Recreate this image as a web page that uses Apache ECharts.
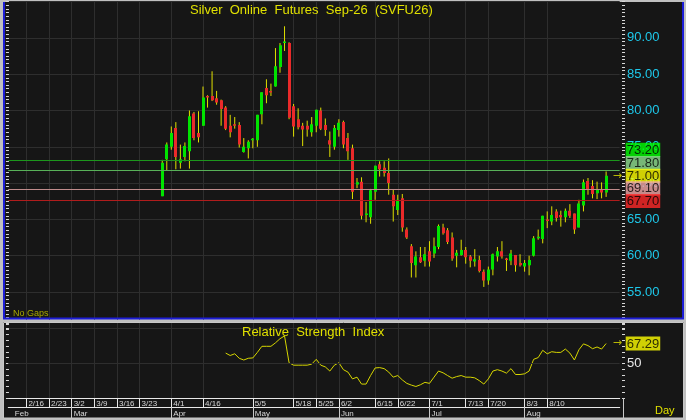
<!DOCTYPE html>
<html>
<head>
    <meta charset="utf-8">
    <title>Silver Online Futures Sep-26 (SVFU26)</title>
    <script src="https://cdn.jsdelivr.net/npm/echarts@6.0.0/dist/echarts.min.js"></script>
    <style>
        html, body { margin: 0; padding: 0; background: #c0c0c0; }
        #chart { width: 686px; height: 420px; }
    </style>
</head>
<body>
<div id="chart"></div>

<script>
    // --- data ---
    var slotCount = 136;          // day slots on the time axis
    var firstCandleSlot = 34;     // slot of the first bar
    var rsiFirstBar = 14;         // RSI starts on the 15th bar

    // open, high, low, close
    var ohlc = [
        [68.2, 73.2, 68.2, 72.8], [73.3, 75.6, 71.8, 75.3], [75.0, 77.8, 74.6, 76.9], [77.6, 78.4, 71.9, 73.6],
        [72.8, 75.3, 72.0, 73.3], [73.6, 75.6, 73.0, 75.1], [74.4, 80.0, 72.0, 79.2], [79.6, 79.8, 75.9, 76.2],
        [76.9, 79.9, 75.6, 76.3], [77.9, 83.3, 77.9, 81.8], [82.0, 82.1, 80.4, 81.8], [82.0, 85.4, 81.3, 81.4],
        [81.7, 82.7, 80.8, 81.1], [81.4, 81.5, 77.9, 80.2], [80.4, 80.6, 77.3, 77.5], [77.9, 79.4, 76.3, 77.0],
        [78.1, 79.1, 77.5, 77.9], [78.0, 78.4, 74.9, 75.3], [74.3, 76.2, 74.2, 75.0], [74.8, 75.9, 73.4, 75.7],
        [75.9, 76.2, 74.8, 76.1], [75.9, 79.4, 75.0, 79.4], [79.5, 82.5, 78.1, 82.5], [83.1, 84.3, 81.0, 82.1],
        [82.7, 83.7, 82.0, 82.5], [83.3, 88.6, 83.3, 86.1], [86.0, 89.3, 85.2, 89.0], [89.3, 91.6, 88.2, 89.5],
        [89.3, 89.4, 78.8, 79.0], [80.6, 80.9, 76.4, 77.8], [78.8, 80.3, 77.4, 77.7], [77.9, 78.3, 75.1, 77.4],
        [77.9, 78.6, 76.4, 77.4], [77.0, 79.1, 76.4, 78.1], [77.9, 80.1, 77.0, 80.1], [80.0, 80.4, 77.3, 77.5],
        [78.0, 78.9, 76.5, 77.3], [75.9, 77.1, 73.6, 75.3], [75.0, 78.0, 74.6, 77.6], [77.3, 78.8, 76.4, 78.3],
        [78.4, 78.6, 74.8, 75.3], [76.2, 76.9, 73.2, 74.4], [74.8, 75.3, 67.8, 68.8], [69.8, 70.7, 69.3, 70.1],
        [70.2, 70.8, 65.0, 65.5], [65.6, 67.4, 64.6, 65.8], [65.3, 69.2, 64.4, 69.0], [68.8, 72.4, 67.7, 72.4],
        [72.6, 73.0, 70.9, 71.9], [72.1, 73.0, 70.9, 71.4], [71.4, 73.4, 68.4, 70.0], [68.4, 69.1, 64.7, 66.8],
        [66.3, 68.4, 65.6, 67.7], [67.9, 68.5, 63.3, 63.9], [63.6, 63.9, 62.3, 62.5], [61.3, 61.6, 57.0, 59.0],
        [58.7, 60.6, 57.0, 59.9], [59.8, 61.2, 59.0, 59.1], [59.3, 61.2, 58.5, 60.2], [60.6, 62.0, 58.5, 59.2],
        [60.3, 62.5, 59.7, 61.3], [61.2, 64.3, 60.9, 64.1], [63.9, 64.4, 62.9, 63.1], [63.5, 63.8, 61.6, 61.9],
        [62.5, 63.2, 59.3, 59.6], [60.0, 60.8, 58.4, 60.4], [60.1, 62.2, 60.0, 60.8], [60.8, 61.2, 58.9, 59.8],
        [59.9, 60.1, 58.4, 59.3], [59.2, 60.9, 58.5, 59.5], [59.4, 60.0, 57.7, 57.9], [57.8, 58.1, 55.7, 56.6],
        [56.6, 58.5, 56.0, 58.1], [58.1, 60.3, 57.3, 60.2], [59.9, 61.2, 59.2, 60.6], [60.6, 62.0, 59.6, 59.9],
        [59.6, 59.7, 57.9, 59.4], [59.3, 60.8, 58.7, 60.3], [60.1, 60.1, 57.8, 58.7], [59.0, 60.2, 58.5, 58.7],
        [58.5, 59.4, 57.8, 59.0], [58.7, 60.0, 57.3, 59.4], [60.0, 62.7, 59.9, 62.4], [62.4, 63.6, 62.2, 62.6],
        [62.3, 65.5, 61.7, 65.5], [65.0, 66.1, 63.8, 64.8], [64.7, 66.8, 64.2, 65.6], [66.1, 66.4, 64.7, 65.2],
        [65.6, 66.2, 64.0, 65.3], [65.3, 66.5, 64.6, 66.2], [66.2, 67.1, 65.2, 65.5], [65.8, 65.8, 63.0, 63.6],
        [63.9, 67.7, 63.9, 67.2], [66.9, 70.5, 66.1, 70.1], [70.3, 70.7, 68.4, 69.1], [69.6, 70.4, 67.9, 68.5],
        [68.6, 70.2, 67.8, 69.1], [69.1, 70.1, 67.9, 68.7], [68.7, 71.6, 68.1, 71.0]
    ];

    var rsi = [
        59.0, 56.9, 58.4, 54.5, 53.0, 54.5, 54.8, 59.6, 64.9, 64.9,
        64.9, 67.9, 71.5, 73.9, 50.6, 48.5, 48.5, 48.5, 48.5, 49.4,
        53.6, 48.5, 47.0, 43.4, 48.5, 50.6, 44.6, 42.5, 36.6, 38.1,
        32.1, 32.1, 39.5, 46.1, 46.4, 45.5, 42.5, 38.1, 39.5, 35.7,
        32.7, 31.2, 30.0, 31.5, 33.6, 32.7, 38.1, 43.4, 41.9, 39.5,
        37.2, 38.6, 39.5, 38.1, 38.1, 37.5, 35.1, 32.1, 36.6, 43.4,
        44.6, 43.4, 41.6, 45.5, 40.4, 40.4, 41.0, 43.4, 53.6, 55.1,
        61.4, 58.4, 60.2, 59.6, 59.6, 62.5, 59.0, 53.0, 61.9, 67.0,
        65.5, 62.8, 64.3, 62.5, 67.29
    ];

    // slot, label
    var dateTicks = [
        [4, '2/16'], [9, '2/23'], [14, '3/2'], [19, '3/9'], [24, '3/16'], [29, '3/23'],
        [36, '4/1'], [43, '4/16'], [54, '5/5'], [63, '5/18'], [68, '5/25'], [73, '6/2'],
        [81, '6/15'], [86, '6/22'], [93, '7/1'], [101, '7/13'], [106, '7/20'], [114, '8/3'], [119, '8/10']
    ];
    var monthTicks = [
        [1, 'Feb'], [14, 'Mar'], [36, 'Apr'], [54, 'May'], [73, 'Jun'], [93, 'Jul'], [114, 'Aug']
    ];

    var levels = [73.2, 71.8, 71.0, 69.1, 67.7];

    // --- looks ---
    var FONT = "'Liberation Sans', Arial, sans-serif";
    var BG = '#161616', GRID = '#2e2e2e', TICK = '#d8d8d8', YEL = '#e0e000';
    var levelLooks = [
        {bg: '#00ff00', line: '#1c961c', dy: -10},
        {bg: '#90e090', line: '#58b058', dy: -7},
        {bg: '#ffff00', line: null, dy: 0, arrow: true},
        {bg: '#f2a8a8', line: '#c08c8c', dy: -1.5},
        {bg: '#ff2828', line: '#b01c1c', dy: 1.2}
    ];

    var slots = [];
    for (var i = 0; i < slotCount; i++) slots.push(String(i));
    var lastSlot = slotCount - 1;

    var dateMap = {}, monthMap = {}, monthLine = {};
    dateTicks.forEach(function (d) { dateMap[d[0]] = d[1]; });
    monthTicks.forEach(function (d, k) { monthMap[d[0]] = d[1]; if (k > 0) monthLine[d[0]] = true; });
    function isDate(idx) { return dateMap[idx] !== undefined; }

    var candleData = ohlc.map(function (r, k) { return [firstCandleSlot + k, r[0], r[1], r[2], r[3]]; });
    var rsiData = rsi.map(function (v, k) { return [firstCandleSlot + rsiFirstBar + k, v]; });

    function tagLabel(text, bg, arrow, dy) {
        return {
            show: true, position: 'right', distance: 6,
            offset: [arrow ? -13 : 0, dy],
            formatter: arrow ? '{a|→}{b|' + text + '}' : '{b|' + text + '}',
            rich: {
                a: {width: 13, color: YEL, fontSize: 11, fontFamily: 'DejaVu Sans'},
                b: {backgroundColor: bg, color: '#000', fontSize: 13, lineHeight: 12,
                    padding: [1, 1, 0, 1], fontFamily: FONT}
            }
        };
    }

    function renderCandle(params, api) {
        var x = api.value(0), o = api.value(1), h = api.value(2), l = api.value(3), c = api.value(4);
        var pO = api.coord([x, o]), pC = api.coord([x, c]);
        var pH = api.coord([x, h]), pL = api.coord([x, l]);
        var top = Math.min(pO[1], pC[1]);
        var hgt = Math.max(Math.abs(pO[1] - pC[1]), 1.5);
        return {
            type: 'group',
            children: [
                {type: 'line', shape: {x1: pH[0], y1: pH[1], x2: pL[0], y2: pL[1]},
                    style: {stroke: YEL, lineWidth: 1}},
                {type: 'rect', shape: {x: Math.round(pO[0] - 1.5), y: top, width: 3, height: hgt},
                    style: {fill: c >= o ? '#00e400' : '#ea2a2a'}}
            ]
        };
    }

    var chart = echarts.init(document.getElementById('chart'));

    var option = {
        backgroundColor: '#c0c0c0',
        animation: false,
        title: [
            {text: 'Silver  Online  Futures  Sep-26  (SVFU26)', left: 190, top: 4, padding: 0,
                textStyle: {color: YEL, fontSize: 13, fontWeight: 'normal', fontFamily: FONT}},
            {text: 'Relative  Strength  Index', left: 242, top: 326, padding: 0,
                textStyle: {color: YEL, fontSize: 13, fontWeight: 'normal', fontFamily: FONT}}
        ],
        grid: [
            {left: 8.26, right: 66.3, top: 1.6, height: 326.7},
            {left: 8.26, right: 66.3, top: 322, height: 76}
        ],
        xAxis: [
            {type: 'category', gridIndex: 0, data: slots, boundaryGap: false,
                axisLine: {show: false}, axisTick: {show: false}, axisLabel: {show: false},
                splitLine: {show: true, interval: isDate, lineStyle: {color: GRID}}},
            {type: 'category', gridIndex: 1, data: slots, boundaryGap: false, position: 'bottom',
                axisLine: {show: true, lineStyle: {color: '#e8e8e8'}},
                axisTick: {show: true, interval: isDate, length: 9, lineStyle: {color: '#e8e8e8'}},
                axisLabel: {show: true, interval: isDate, margin: 2, align: 'left', padding: [0, 0, 0, 2],
                    formatter: function (v, idx) { return dateMap[idx] || ''; },
                    fontSize: 8, color: '#d8d8d8', fontFamily: FONT},
                splitLine: {show: true, interval: isDate, lineStyle: {color: GRID}}},
            {type: 'category', gridIndex: 1, data: slots, boundaryGap: false, position: 'bottom', offset: 9,
                axisLine: {show: true, lineStyle: {color: '#e8e8e8'}},
                axisTick: {show: true, interval: function (idx) { return !!monthLine[idx]; }, length: 11,
                    lineStyle: {color: '#c8c8c8'}},
                axisLabel: {show: true, interval: function (idx) { return monthMap[idx] !== undefined; },
                    margin: 3, align: 'left', padding: [0, 0, 0, 2],
                    formatter: function (v, idx) { return monthMap[idx] || ''; },
                    fontSize: 8, color: '#d8d8d8', fontFamily: FONT},
                splitLine: {show: false}}
        ],
        yAxis: [
            {type: 'value', gridIndex: 0, position: 'right', offset: 2.3, min: 50, max: 95, interval: 5,
                axisLine: {show: false},
                axisTick: {show: true, length: 3, lineStyle: {color: TICK}},
                minorTick: {show: true, splitNumber: 10, length: 3, lineStyle: {color: TICK}},
                axisLabel: {margin: 5, color: '#1ec8ea', fontSize: 13, fontFamily: FONT,
                    formatter: function (v) { return v >= 55 && v <= 90 ? v.toFixed(2) : ''; }},
                splitLine: {show: true, lineStyle: {color: GRID}}},
            {type: 'value', gridIndex: 0, position: 'left', offset: 2.3, min: 50, max: 95, interval: 5,
                axisLine: {show: false}, axisLabel: {show: false}, splitLine: {show: false},
                axisTick: {show: true, inside: true, length: 3, lineStyle: {color: TICK}},
                minorTick: {show: true, splitNumber: 10, length: 3, lineStyle: {color: TICK}}},
            {type: 'value', gridIndex: 1, position: 'right', offset: 2.3, min: 20, max: 86, interval: 5,
                axisLine: {show: false},
                axisTick: {show: true, length: 3, lineStyle: {color: TICK}},
                axisLabel: {margin: 5, color: '#e8e8e8', fontSize: 13, fontFamily: FONT,
                    formatter: function (v) { return v === 50 ? '50' : ''; }},
                splitLine: {show: false}},
            {type: 'value', gridIndex: 1, position: 'left', offset: 2.3, min: 20, max: 86, interval: 5,
                axisLine: {show: false}, axisLabel: {show: false}, splitLine: {show: false},
                axisTick: {show: true, inside: true, length: 3, lineStyle: {color: TICK}}}
        ],
        series: [
            {
                name: 'SVFU26', type: 'custom', xAxisIndex: 0, yAxisIndex: 0,
                renderItem: renderCandle, clip: true,
                encode: {x: 0, y: [1, 2, 3, 4]},
                data: candleData
            },
            {
                name: 'levels', type: 'scatter', xAxisIndex: 0, yAxisIndex: 0,
                symbolSize: 0, silent: true, z: 5,
                data: levels.map(function (v, k) {
                    var lk = levelLooks[k];
                    return {value: [lastSlot, v], label: tagLabel(v.toFixed(2), lk.bg, lk.arrow, lk.dy)};
                }),
                markLine: {
                    silent: true, symbol: 'none', label: {show: false},
                    data: levels.map(function (v, k) {
                        return levelLooks[k].line ? {yAxis: v, lineStyle: {color: levelLooks[k].line, width: 1, type: 'solid'}} : null;
                    }).filter(Boolean)
                }
            },
            {
                name: 'Relative Strength Index', type: 'line', xAxisIndex: 1, yAxisIndex: 2,
                showSymbol: false, lineStyle: {color: '#d6d600', width: 1},
                data: rsiData,
                markLine: {silent: true, symbol: 'none', label: {show: false},
                    lineStyle: {color: GRID, width: 1, type: 'solid'}, data: [{yAxis: 50}]}
            },
            {
                name: 'rsiTag', type: 'scatter', xAxisIndex: 1, yAxisIndex: 2,
                symbolSize: 0, silent: true, z: 5,
                data: [{value: [lastSlot, rsi[rsi.length - 1]],
                    label: tagLabel(rsi[rsi.length - 1].toFixed(2), '#ffff00', true, 0)}]
            }
        ],
        graphic: [
            {type: 'rect', z: -5, shape: {x: 3, y: 2, width: 681, height: 317}, style: {fill: BG}},
            {type: 'rect', z: -5, shape: {x: 3, y: 322, width: 681, height: 96}, style: {fill: BG}},
            {type: 'rect', z: 50, shape: {x: 0, y: 319.5, width: 686, height: 2.5}, style: {fill: '#c0c0c0'}},
            {type: 'polyline', z: 50, shape: {points: [[4, 2], [4, 318.5], [683, 318.5], [683, 2]]},
                style: {stroke: '#1c1cd6', lineWidth: 2, fill: null}},
            {type: 'rect', z: 50, shape: {x: 3.5, y: 322.5, width: 680, height: 95.5},
                style: {stroke: '#c8c8c8', lineWidth: 1, fill: null}},
            {type: 'line', z: 50, shape: {x1: 623.5, y1: 398, x2: 623.5, y2: 418},
                style: {stroke: '#c8c8c8', lineWidth: 1}},
            {type: 'text', z: 50, x: 13, y: 309,
                style: {text: 'No Gaps', fill: '#a8a800', font: '9px ' + FONT}},
            {type: 'text', z: 50, x: 655, y: 405,
                style: {text: 'Day', fill: YEL, font: '11px ' + FONT}}
        ]
    };

    chart.setOption(option);
</script>
</body>
</html>
